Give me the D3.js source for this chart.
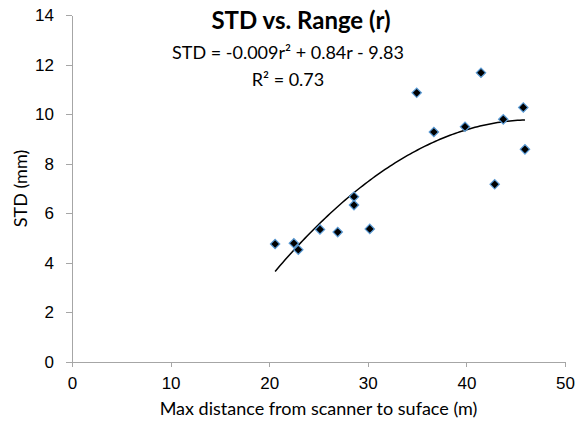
<!DOCTYPE html>
<html>
<head>
<meta charset="utf-8">
<script src="https://cdnjs.cloudflare.com/ajax/libs/d3/7.8.5/d3.min.js"></script>
<style>
    body { margin: 0; background: #fff; }
    svg { display: block; font-family: Lato, "Open Sans", sans-serif; }
    .axis path, .axis line { stroke: #a6a6a6; shape-rendering: crispEdges; }
    .axis text { fill: #000; font-size: 17px; }
</style>
</head>
<body>
<div id="chart"></div>
<script>
// max distance from scanner to surface (m)
var range_values = [20.6, 22.5, 22.95, 25.15, 26.95, 28.6, 28.6, 30.2, 34.96, 36.7, 39.86, 41.48, 42.87, 43.74, 45.77, 45.94];
// STD (mm)
var std_values = [4.76, 4.79, 4.53, 5.35, 5.24, 6.67, 6.33, 5.37, 10.86, 9.28, 9.49, 11.67, 7.17, 9.79, 10.27, 8.58];
// polynomial trendline, as printed on the chart: a*r^2 + b*r + c
var trend_coeffs = [-0.009, 0.84, -9.83];
var x_ticks = [0, 10, 20, 30, 40, 50];
var y_ticks = [0, 2, 4, 6, 8, 10, 12, 14];

var width = 582, height = 423;

var svg = d3.select("#chart")
    .append("svg")
    .attr("width", width)
    .attr("height", height);

var xScale = d3.scaleLinear()
    .domain([0, 50])
    .range([72, 565]);

var yScale = d3.scaleLinear()
    .domain([0, 14])
    .range([362, 15]);

var xAxis = d3.axisBottom(xScale)
    .tickValues(x_ticks)
    .tickSize(5)
    .tickPadding(10)
    .tickSizeOuter(0);

var yAxis = d3.axisLeft(yScale)
    .tickValues(y_ticks)
    .tickSize(6)
    .tickPadding(12)
    .tickSizeOuter(0);

svg.append("g")
    .attr("class", "x axis")
    .attr("transform", "translate(0," + yScale(0) + ")")
    .call(xAxis);

svg.append("g")
    .attr("class", "y axis")
    .attr("transform", "translate(" + xScale(0) + ",0)")
    .call(yAxis);

// trendline drawn over the span of the data
var xs = range_values.slice().sort(d3.ascending);
var x_min = xs[0], x_max = xs[xs.length - 1];
var trend_pts = d3.range(0, 101).map(function(i) {
    var r = x_min + (x_max - x_min) * i / 100;
    return { x: r, y: trend_coeffs[0] * r * r + trend_coeffs[1] * r + trend_coeffs[2] };
});

var line = d3.line()
    .x(function(d) { return xScale(d.x); })
    .y(function(d) { return yScale(d.y); });

svg.append("path")
    .attr("d", line(trend_pts))
    .attr("fill", "none")
    .attr("stroke", "#000")
    .attr("stroke-width", 1.5);

// markers: black diamonds with a light blue edge
var diamond = d3.symbol().type(d3.symbolSquare).size(44);

svg.selectAll(".pt")
    .data(range_values.map(function(r, i) { return { x: r, y: std_values[i] }; }))
    .enter().append("path")
    .attr("class", "pt")
    .attr("d", diamond)
    .attr("transform", function(d) {
        return "translate(" + xScale(d.x) + "," + yScale(d.y) + ")rotate(45)";
    })
    .attr("fill", "#000")
    .attr("stroke", "#5b9bd5")
    .attr("stroke-width", 1.2);

// titles
svg.append("text")
    .attr("x", 301)
    .attr("y", 29)
    .attr("text-anchor", "middle")
    .attr("font-size", "24px")
    .attr("font-weight", "bold")
    .text("STD vs. Range (r)");

svg.append("text")
    .attr("x", 288)
    .attr("y", 59)
    .attr("text-anchor", "middle")
    .attr("font-size", "18px")
    .text("STD = -0.009r² + 0.84r - 9.83");

svg.append("text")
    .attr("x", 288)
    .attr("y", 86)
    .attr("text-anchor", "middle")
    .attr("font-size", "18px")
    .text("R² = 0.73");

svg.append("text")
    .attr("x", (xScale(0) + xScale(50)) / 2)
    .attr("y", 415)
    .attr("text-anchor", "middle")
    .attr("font-size", "18px")
    .text("Max distance from scanner to suface (m)");

svg.append("text")
    .attr("text-anchor", "middle")
    .attr("transform", "translate(27," + (yScale(0) + yScale(14)) / 2 + ")rotate(-90)")
    .attr("font-size", "18px")
    .text("STD (mm)");
</script>
</body>
</html>
